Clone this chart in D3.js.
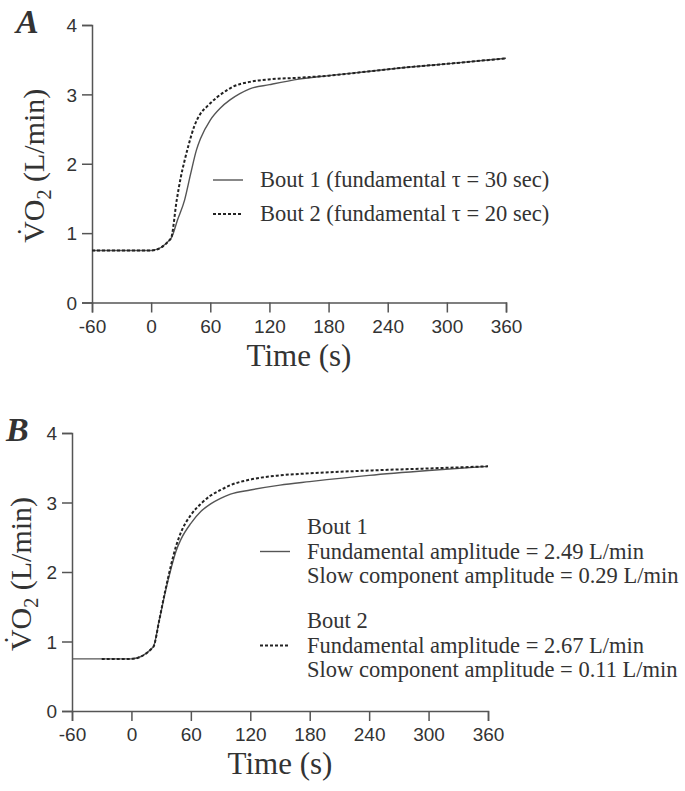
<!DOCTYPE html>
<html>
<head>
<meta charset="utf-8">
<script src="https://cdn.jsdelivr.net/npm/d3@7"></script>
<style>
  body { margin: 0; background: #fff; }
  svg { display: block; }
  .tick text { font-family: "Liberation Sans", Arial, sans-serif; font-size: 19px; fill: #333; }
  .serif { font-family: "Liberation Serif", "Times New Roman", serif; fill: #333; }
</style>
</head>
<body>
<svg id="chart" width="685" height="791"></svg>
<script>
// time points (s) and VO2 (L/min)
const timeA = [-60, 0, 20, 27, 34, 40, 46, 50, 60, 70, 80, 90, 100, 120, 150, 180, 220, 260, 300, 360];
const bout1A = [0.75, 0.75, 0.92, 1.2, 1.48, 1.85, 2.2, 2.36, 2.63, 2.8, 2.92, 3.01, 3.08, 3.14, 3.22, 3.27, 3.33, 3.39, 3.44, 3.52];
const timeA2 = [-60, 0, 20, 26, 30, 34, 38, 44, 50, 57, 67, 77, 83, 100, 123, 150, 180, 220, 260, 300, 360];
const bout2A = [0.75, 0.75, 0.92, 1.48, 1.8, 2.05, 2.27, 2.55, 2.72, 2.83, 2.96, 3.06, 3.11, 3.18, 3.22, 3.24, 3.27, 3.33, 3.39, 3.44, 3.52];

const timeB1 = [-60, 0, 22, 28, 34, 40, 45, 50, 60, 70, 80, 90, 100, 120, 150, 180, 240, 300, 360];
const bout1B = [0.75, 0.75, 0.92, 1.3, 1.7, 2.05, 2.3, 2.47, 2.7, 2.87, 2.98, 3.06, 3.12, 3.18, 3.25, 3.3, 3.39, 3.46, 3.52];
const timeB2 = [-30, 0, 22, 28, 34, 40, 45, 50, 60, 70, 80, 90, 100, 120, 150, 180, 240, 300, 360];
const bout2B = [0.75, 0.75, 0.92, 1.3, 1.72, 2.1, 2.37, 2.57, 2.82, 2.98, 3.1, 3.18, 3.25, 3.33, 3.39, 3.42, 3.46, 3.49, 3.52];

const xTicks = [-60, 0, 60, 120, 180, 240, 300, 360];
const yTicks = [0, 1, 2, 3, 4];

const legendA = ["Bout 1 (fundamental \u03c4 = 30 sec)", "Bout 2 (fundamental \u03c4 = 20 sec)"];
const legendB1 = ["Bout 1", "Fundamental amplitude = 2.49 L/min", "Slow component amplitude = 0.29 L/min"];
const legendB2 = ["Bout 2", "Fundamental amplitude = 2.67 L/min", "Slow component amplitude = 0.11 L/min"];

const svg = d3.select("#chart");

function panel(opt) {
  const g = svg.append("g");
  const x = d3.scaleLinear().domain([-60, 360]).range([opt.left, opt.right]);
  const y = d3.scaleLinear().domain([0, 4]).range([opt.bottom, opt.top]);

  const xa = g.append("g").attr("transform", `translate(0,${opt.bottom})`)
    .call(d3.axisBottom(x).tickValues(xTicks).tickSize(10).tickPadding(7).tickFormat(d => String(d)));
  const ya = g.append("g").attr("transform", `translate(${opt.left},0)`)
    .call(d3.axisLeft(y).tickValues(yTicks).tickSize(10).tickPadding(5).tickFormat(d => String(d)));
  [xa, ya].forEach(a => {
    a.select(".domain").attr("stroke", "#555").attr("stroke-width", 1.5);
    a.selectAll(".tick line").attr("stroke", "#555").attr("stroke-width", 1.5);
  });
  ya.selectAll(".tick text").attr("dy", "0.36em");

  const line = d3.line().x(d => x(d[0])).y(d => y(d[1])).curve(d3.curveMonotoneX);
  g.append("path").datum(d3.zip(opt.t1, opt.v1))
    .attr("fill", "none").attr("stroke", "#555").attr("stroke-width", 1.4).attr("d", line);
  g.append("path").datum(d3.zip(opt.t2, opt.v2))
    .attr("fill", "none").attr("stroke", "#222").attr("stroke-width", 2)
    .attr("stroke-dasharray", "3,2").attr("d", line);

  // axis titles
  g.append("text").attr("class", "serif")
    .attr("x", (opt.left + opt.right) / 2).attr("y", opt.bottom + 63)
    .attr("text-anchor", "middle").attr("font-size", 31).text("Time (s)");
  const yl = g.append("text").attr("class", "serif")
    .attr("transform", `translate(${opt.ylabX},${(opt.top + opt.bottom) / 2 + 2}) rotate(-90)`)
    .attr("text-anchor", "middle").attr("font-size", 30);
  yl.append("tspan").text("V\u0307O");
  yl.append("tspan").attr("font-size", 20).attr("dy", 7).text("2");
  yl.append("tspan").attr("dy", -7).text(" (L/min)");

  svg.append("text").attr("class", "serif")
    .attr("x", opt.letterX).attr("y", opt.top + 8)
    .attr("font-size", 34).attr("font-weight", "bold").attr("font-style", "italic")
    .attr("fill", "#111").text(opt.letter);
  return g;
}

const gA = panel({ left: 92, right: 506, top: 25, bottom: 302.5, t1: timeA, v1: bout1A, t2: timeA2, v2: bout2A, ylabX: 44, letter: "A", letterX: 16 });
const gB = panel({ left: 72, right: 488, top: 433, bottom: 711, t1: timeB1, v1: bout1B, t2: timeB2, v2: bout2B, ylabX: 31, letter: "B", letterX: 6 });

// legend A
legendA.forEach((s, i) => {
  const yy = 180 + i * 34;
  gA.append("line").attr("x1", 213).attr("x2", 243).attr("y1", yy).attr("y2", yy)
    .attr("stroke", i ? "#222" : "#555").attr("stroke-width", i ? 2 : 1.4)
    .attr("stroke-dasharray", i ? "3,2" : null);
  gA.append("text").attr("class", "serif").attr("x", 260).attr("y", yy + 7)
    .attr("font-size", 22.5).text(s);
});

// legend B
[legendB1, legendB2].forEach((rows, i) => {
  const y0 = 527 + i * 94;
  rows.forEach((s, j) => {
    gB.append("text").attr("class", "serif").attr("x", 307).attr("y", y0 + j * 24.5 + 7)
      .attr("font-size", 22.5).text(s);
  });
  const yy = y0 + 24.5;
  gB.append("line").attr("x1", 260).attr("x2", 290).attr("y1", yy).attr("y2", yy)
    .attr("stroke", i ? "#222" : "#555").attr("stroke-width", i ? 2 : 1.4)
    .attr("stroke-dasharray", i ? "3,2" : null);
});
</script>
</body>
</html>
